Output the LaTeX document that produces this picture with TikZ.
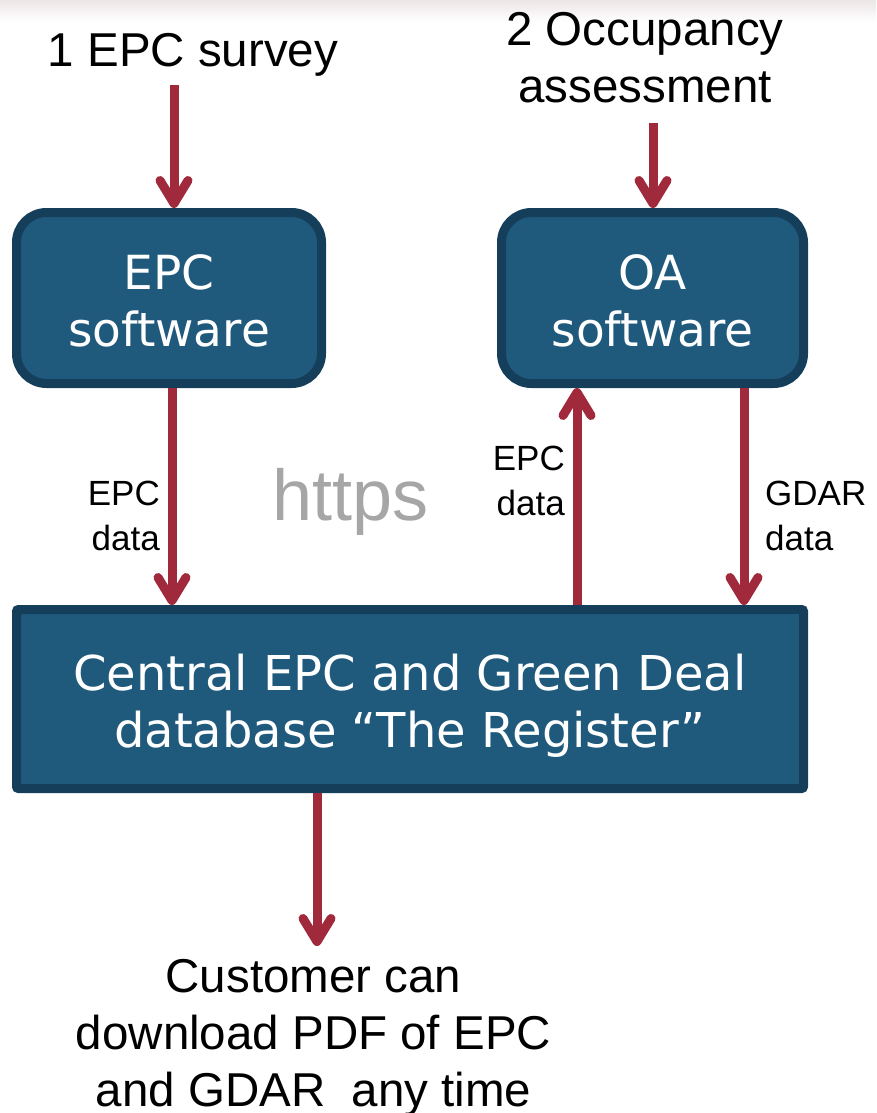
\documentclass[tikz,border=0pt]{standalone}
\usepackage{fontspec}
\setmainfont{Liberation Sans}
\newfontfamily\boxfont{DejaVu Sans}
\usetikzlibrary{arrows.meta}
\definecolor{arrred}{HTML}{A02A3B}
\definecolor{boxfill}{HTML}{1F5A7D}
\definecolor{boxline}{HTML}{143E59}
\definecolor{httpsgray}{HTML}{A6A6A6}
\definecolor{topfade}{HTML}{ECE6E7}
\begin{document}
\begin{tikzpicture}[x=1pt,y=-1pt,
  box/.style={draw=boxline, fill=boxfill, line width=9pt, text=white,
    font=\boxfont\fontsize{47}{57}\selectfont, align=center, inner sep=0pt},
  arr/.style={draw=arrred, line width=9pt,
    -{Straight Barb[length=23pt,width=28pt,line cap=round,line join=round]}},
  big/.style={font=\fontsize{47.5}{57}\selectfont, align=center, inner sep=0pt},
  lab/.style={font=\fontsize{35}{45}\selectfont, inner sep=0pt}]
\useasboundingbox (0,0) rectangle (876,1113);
\shade[top color=topfade, bottom color=white] (0,0) rectangle (876,22);

% boxes
\node[box, rounded corners=30pt, minimum width=305pt, minimum height=171pt] (epc) at (169,298) {\rule{0pt}{40pt}EPC\\software};
\node[box, rounded corners=30pt, minimum width=302pt, minimum height=171pt] (oa) at (652.5,298) {\rule{0pt}{40pt}OA\\software};
\node[box, rounded corners=2pt, minimum width=787pt, minimum height=179pt,
      font=\boxfont\fontsize{48}{57}\selectfont] (reg) at (410,699) {\rule{0pt}{50pt}Central EPC and Green Deal\\database “The Register”};

% texts
\node[big, anchor=base] (t1) at (193,67) {1 EPC survey};
\node[big] (t2) at (645,58) {2 Occupancy\\assessment};
\node[big] (t3) at (313.5,1038) {Customer can\\download PDF of EPC\\and GDAR\ \ any time};

\node[lab, align=right, anchor=north east] (l1) at (160,481) {EPC\\data};
\node[lab, align=right, anchor=north east] (l2) at (565,446) {EPC\\data};
\node[lab, align=left, anchor=north west] (l3) at (765,481) {GDAR\\data};
\node[font=\fontsize{72}{84}\selectfont, text=httpsgray, inner sep=0pt, anchor=base west] (https) at (272,520) {https};

% arrows
\coordinate (s1) at (174,85);
\coordinate (s2) at (653,123);
\coordinate (e5) at (317,946);
\draw[arr] (s1) -- (s1 |- epc.north);
\draw[arr] (s2) -- (s2 |- oa.north);
\draw[arr] ([xshift=3pt]epc.south) -- ([xshift=3pt]epc.south |- reg.north);
\draw[arr] ([xshift=167pt]reg.north) -- ([xshift=167pt]reg.north |- oa.south);
\draw[arr] ([xshift=91.5pt]oa.south) -- ([xshift=91.5pt]oa.south |- reg.north);
\draw[arr] (reg.south -| e5) -- (e5);
\end{tikzpicture}
\end{document}
